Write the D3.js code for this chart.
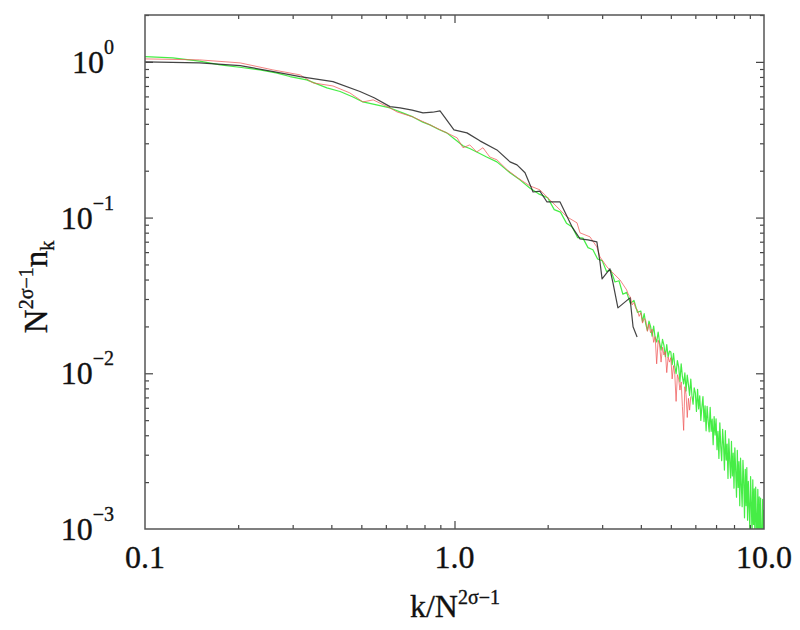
<!DOCTYPE html>
<html>
<head>
<meta charset="utf-8">
<script src="https://cdn.jsdelivr.net/npm/d3@7"></script>
<style>
  html, body { margin: 0; padding: 0; background: #fff; }
  svg { display: block; }
</style>
</head>
<body>
<svg id="chart" width="800" height="630"></svg>
<script>
// ---------- data ----------
const blackK = [0.1,0.15,0.203,0.26,0.317,0.405,0.495,0.55,0.619,0.667,0.73,0.791,0.85,0.898,0.996,1.097,1.208,1.371,1.511,1.592,1.69,1.794,1.888,1.99,2.193,2.397,2.544,2.699,2.884,2.951,2.998,3.178,3.251,3.373,3.69,3.775,3.89];
const blackN = [1.0,0.985,0.947,0.866,0.805,0.747,0.645,0.588,0.516,0.506,0.49,0.47,0.475,0.485,0.366,0.35,0.311,0.272,0.228,0.218,0.194,0.146,0.148,0.126,0.126,0.0872,0.073,0.0719,0.0698,0.0519,0.0404,0.0469,0.0381,0.0263,0.0305,0.0199,0.0171];

const redK = [0.1,0.15,0.203,0.259,0.317,0.349,0.405,0.459,0.506,0.546,0.619,0.652,0.734,0.833,0.944,1.02,1.065,1.12,1.18,1.236,1.30,1.371,1.48,1.6,1.75,1.888,2.144,2.31,2.488,2.544,2.74,2.884,2.951,3.11,3.251,3.425,
  3.6,3.65,3.7,3.75,3.8,3.85,3.9,3.95,4.0,4.05,4.1,4.15,4.2,4.25,4.3,4.35,4.4,4.45,4.5,4.55,4.6,4.65,4.7,4.75,4.8,4.85,4.9,4.95,
  5.0,5.05,5.1,5.15,5.2,5.25,5.3,5.35,5.4,5.45,5.5,5.55,5.6,5.65,5.7,5.75,5.8];
const redN = [1.045,1.03,0.985,0.888,0.825,0.733,0.70,0.632,0.553,0.570,0.506,0.477,0.443,0.394,0.350,0.325,0.281,0.293,0.264,0.281,0.245,0.235,0.2025,0.18,0.16,0.1507,0.117,0.101,0.0925,0.0798,0.0752,0.0648,0.0559,0.0482,0.0441,0.0398,
  0.0343,0.0318,0.031,0.0275,0.0285,0.0262,0.0255,0.0232,0.0245,0.021,0.0225,0.0218,0.0186,0.0207,0.0182,0.0192,0.0158,0.0172,0.0115,0.0163,0.0152,0.0118,0.0147,0.0131,0.0138,0.0101,0.0127,0.0118,
  0.0126,0.0092,0.0112,0.0098,0.0066,0.0098,0.0092,0.0078,0.0088,0.0061,0.0043,0.0082,0.0073,0.0052,0.0069,0.0058,0.0071];

const greenK = [0.1,0.123,0.15,0.175,0.205,0.235,0.265,0.294,0.333,0.387,0.427,0.47,0.506,0.56,0.619,0.68,0.734,0.79,0.833,0.89,0.944,1.0,1.065,1.12,1.18,1.27,1.371,1.44,1.511,1.627,1.75,1.87,
  2.0,2.1,2.2,2.3,2.4,2.5,2.6,2.7,2.8,2.9,
  3.0,3.1,3.2,3.3,3.4,3.5,3.6,3.7,3.8,3.9,
  4.0,4.05,4.1,4.15,4.2,4.25,4.3,4.35,4.4,4.45,4.5,4.55,4.6,4.65,4.7,4.75,4.8,4.85,4.9,4.95,
  5.0,5.05,5.1,5.15,5.2,5.25,5.3,5.35,5.4,5.45,5.5,5.55,5.6,5.65,5.7,5.75,5.8,5.85,5.9,5.95,
  6.0,6.05,6.1,6.15,6.2,6.25,6.3,6.35,6.4,6.45,6.5,6.55,6.6,6.65,6.7,6.75,6.8,6.85,6.9,6.95,
  7.0,7.05,7.1,7.15,7.2,7.25,7.3,7.35,7.4,7.45,7.5,7.55,7.6,7.65,7.7,7.75,7.8,7.85,7.9,7.95,
  8.0,8.05,8.1,8.15,8.2,8.25,8.3,8.35,8.4,8.45,8.5,8.55,8.6,8.65,8.7,8.75,8.8,8.85,8.9,8.95,
  9.0,9.05,9.1,9.15,9.2,9.25,9.3,9.35,9.4,9.45,9.5,9.55,9.6,9.65,9.7,9.75,9.8,9.85,9.9,9.95,
  10.0];
const greenN = [1.081,1.061,1.01,0.9566,0.92,0.888,0.85,0.805,0.766,0.681,0.645,0.595,0.553,0.53,0.506,0.47,0.443,0.41,0.394,0.368,0.35,0.32,0.289,0.278,0.264,0.245,0.228,0.21,0.194,0.1747,0.155,0.142,
  0.134,0.1125,0.1084,0.0921,0.0869,0.0743,0.0738,0.0641,0.0622,0.0542,
  0.0529,0.0451,0.0459,0.0386,0.0393,0.0322,0.0331,0.0281,0.0294,0.0246,
  0.0251,0.0215,0.0242,0.0207,0.0188,0.0216,0.02,0.0173,0.0201,0.0169,0.0159,0.0184,0.0157,0.0141,0.0165,0.0151,0.0128,0.0153,0.0127,0.0139,
  0.01372,0.01135,0.01342,0.01106,0.00994,0.01208,0.01099,0.00882,0.0115,0.00951,0.00855,0.01005,0.0077,0.00974,0.00844,0.00722,0.00917,0.00721,0.00633,0.00806,
  0.00749,0.00569,0.0079,0.00591,0.00717,0.00498,0.00607,0.00709,0.0049,0.00618,0.00427,0.00614,0.00494,0.00421,0.00604,0.00424,0.00508,0.00348,0.00527,0.00401,
  0.0051,0.00323,0.00424,0.00284,0.00481,0.00338,0.00275,0.00437,0.0035,0.00239,0.00428,0.00277,0.00351,0.00211,0.00379,0.00271,0.00213,0.00365,0.00219,0.00307,
  0.00183,0.00332,0.00237,0.0016,0.0032,0.00185,0.00271,0.00141,0.00285,0.00189,0.00139,0.00276,0.00205,0.00118,0.00242,0.00141,0.00248,0.00114,0.00202,0.00139,
  0.001,0.00217,0.00145,0.000894,0.00207,0.00107,0.00181,0.000789,0.00186,0.00117,0.000787,0.0018,0.000854,0.00161,0.000673,0.00158,0.000888,0.000654,0.00155,0.000707,
  0.00133];

const xMajorTicks = [1];
const xMinorTicks = [0.2,0.3,0.4,0.5,0.6,0.7,0.8,0.9,2,3,4,5,6,7,8,9];
const xTickLabels = [{v:0.1,t:"0.1"},{v:1,t:"1.0"},{v:10,t:"10.0"}];
const yMajorTicks = [0.01,0.1,1];
const yMinorTicks = [0.002,0.003,0.004,0.005,0.006,0.007,0.008,0.009,0.02,0.03,0.04,0.05,0.06,0.07,0.08,0.09,0.2,0.3,0.4,0.5,0.6,0.7,0.8,0.9,2];
const yTickLabels = [{v:1,e:"0"},{v:0.1,e:"\u22121"},{v:0.01,e:"\u22122"},{v:0.001,e:"\u22123"}];

// ---------- layout ----------
const L = 145, R = 764, T = 15, B = 529;
const svg = d3.select("#chart");
const x = d3.scaleLog().domain([0.1, 10]).range([L, R]);
const y = d3.scaleLog().domain([0.001, 2]).range([B, T]);
const FONT = "'Liberation Serif','Times New Roman',Times,serif";
const AX = "#444";

svg.append("defs").append("clipPath").attr("id", "plotclip")
  .append("rect").attr("x", L).attr("y", T).attr("width", R - L).attr("height", B - T);

// ---------- series ----------
const line = d3.line().x(d => x(d[0])).y(d => y(d[1]));
const plot = svg.append("g").attr("clip-path", "url(#plotclip)");
function series(K, N, color, w, op) {
  plot.append("path").datum(K.map((k, i) => [k, N[i]]))
    .attr("d", line).attr("fill", "none")
    .attr("stroke", color).attr("stroke-width", w).attr("stroke-opacity", op)
    .attr("stroke-linejoin", "round");
}
series(greenK, greenN, "#18e818", 1.2, 0.8);
series(redK, redN, "#ef5a5a", 1.0, 0.75);
series(blackK, blackN, "#222", 1.2, 0.85);

// ---------- axes (inward ticks on all four sides) ----------
function addAxis(axisFn, scale, vals, size, transform) {
  const g = svg.append("g").attr("transform", transform)
    .call(axisFn(scale).tickValues(vals).tickSize(-size).tickFormat(""));
  g.select(".domain").remove();
  g.selectAll(".tick line").attr("stroke", AX).attr("stroke-width", 1.2);
}
addAxis(d3.axisBottom, x, xMinorTicks, 4, `translate(0,${B})`);
addAxis(d3.axisBottom, x, xMajorTicks, 8, `translate(0,${B})`);
addAxis(d3.axisTop, x, xMinorTicks, 4, `translate(0,${T})`);
addAxis(d3.axisTop, x, xMajorTicks, 8, `translate(0,${T})`);
addAxis(d3.axisLeft, y, yMinorTicks, 4, `translate(${L},0)`);
addAxis(d3.axisLeft, y, yMajorTicks, 8, `translate(${L},0)`);
addAxis(d3.axisRight, y, yMinorTicks, 4, `translate(${R},0)`);
addAxis(d3.axisRight, y, yMajorTicks, 8, `translate(${R},0)`);

svg.append("rect").attr("x", L).attr("y", T).attr("width", R - L).attr("height", B - T)
  .attr("fill", "none").attr("stroke", "#555").attr("stroke-width", 1.5);

// ---------- tick labels ----------
const TXT = g => g.attr("font-family", FONT).attr("fill", "#111").attr("stroke", "#111").attr("stroke-width", 0.35);
svg.append("g").selectAll("text").data(xTickLabels).join("text")
  .attr("x", d => x(d.v)).attr("y", 568)
  .attr("text-anchor", "middle").attr("font-size", 32).call(TXT).text(d => d.t);

const yl = svg.append("g").selectAll("text").data(yTickLabels).join("text")
  .attr("x", 114).attr("y", d => y(d.v) + 11)
  .attr("text-anchor", "end").attr("font-size", 32).call(TXT);
yl.append("tspan").text("10");
yl.append("tspan").attr("dy", -19).attr("font-size", 20).text(d => d.e);

// ---------- axis titles ----------
const xt = svg.append("text").attr("x", 455).attr("y", 617)
  .attr("text-anchor", "middle").attr("font-size", 32).call(TXT);
xt.append("tspan").text("k/N");
xt.append("tspan").attr("dy", -13).attr("font-size", 20).text("2\u03c3\u22121");

const yt = svg.append("text").attr("transform", "translate(47,287) rotate(-90)")
  .attr("text-anchor", "middle").attr("font-size", 33).call(TXT);
yt.append("tspan").text("N");
yt.append("tspan").attr("dy", -14).attr("font-size", 20).text("2\u03c3\u22121");
yt.append("tspan").attr("dy", 14).text("n");
yt.append("tspan").attr("dy", 7).attr("font-size", 20).text("k");
</script>
</body>
</html>
